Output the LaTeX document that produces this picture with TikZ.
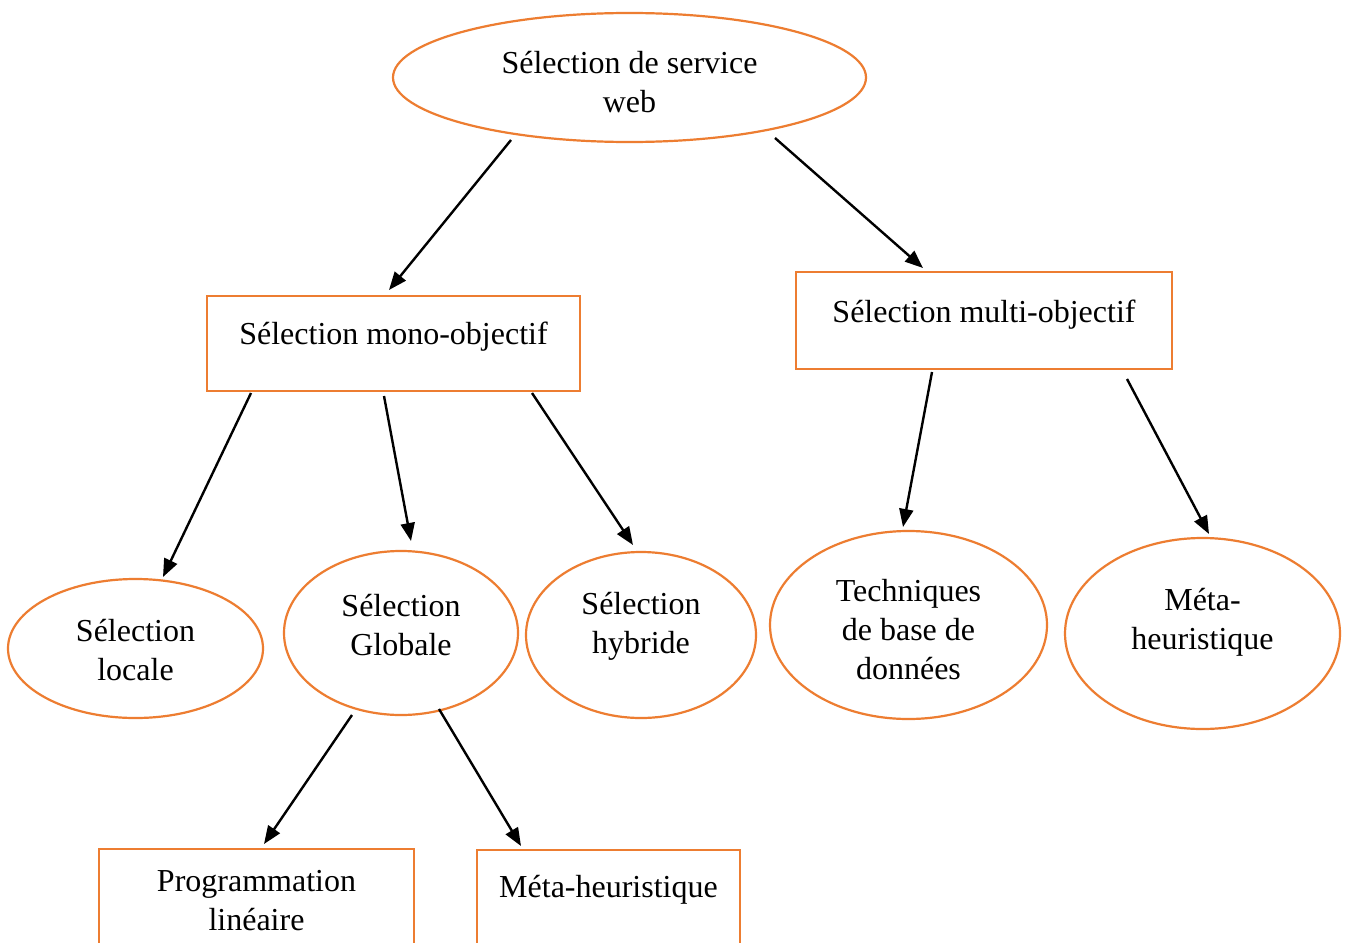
\documentclass[tikz,border=0pt]{standalone}
\usepackage{fontspec}
\setmainfont{Liberation Serif}
\usetikzlibrary{shapes.geometric,arrows.meta}
\definecolor{edgeorange}{HTML}{ED7D31}
\tikzset{
  txt/.style={font=\fontsize{32pt}{39pt}\selectfont, align=center, inner sep=0pt},
  oval/.style={ellipse, draw=edgeorange, line width=2.2pt, inner sep=0pt},
  rbox/.style={rectangle, draw=edgeorange, line width=2.2pt, inner sep=0pt},
  link/.style={line width=2.4pt, -{Triangle[length=18pt,width=14pt]}}
}
\begin{document}
\begin{tikzpicture}[x=1pt,y=-1pt]
\clip (0,0) rectangle (1346,942);
\fill[white] (0,0) rectangle (1346,942);

% root
\node[oval, minimum width=473pt, minimum height=129pt] (root) at (629.5,77.5) {};
\node[txt] (rootT) at (629.5,82) {Sélection de service\\web};

% second level
\node[rbox, minimum width=373pt, minimum height=95pt] (mono) at (393.5,343.5) {};
\node[txt] (monoT) at (393.5,336.5) {Sélection mono-objectif};
\node[rbox, minimum width=376pt, minimum height=97pt] (multi) at (984,320.5) {};
\node[txt] (multiT) at (984,314.5) {Sélection multi-objectif};

% third level
\node[oval, minimum width=255pt, minimum height=139pt] (loc) at (135.5,648.5) {};
\node[txt] (locT) at (135.5,650.5) {Sélection\\locale};
\node[oval, minimum width=234pt, minimum height=164pt] (glob) at (401,633) {};
\node[txt] (globT) at (401,625.5) {Sélection\\Globale};
\node[oval, minimum width=230pt, minimum height=166pt] (hyb) at (641,635) {};
\node[txt] (hybT) at (641,626.5) {Sélection\\hybride};
\node[oval, minimum width=277pt, minimum height=188pt] (tech) at (908.5,625) {};
\node[txt] (techT) at (908.5,629.5) {Techniques\\de base de\\données};
\node[oval, minimum width=275pt, minimum height=191pt] (meta) at (1202.5,633.5) {};
\node[txt] (metaT) at (1202.5,622.5) {Méta-\\heuristique};

% fourth level (boxes run past the lower edge)
\node[rbox, minimum width=315pt, minimum height=110pt] (prog) at (256.5,904) {};
\node[txt] (progT) at (256.5,900.5) {Programmation\\linéaire};
\node[rbox, minimum width=263pt, minimum height=110pt] (mh) at (608.5,905) {};
\node[txt] (mhT) at (608.5,889.5) {Méta-heuristique};

% connector end points
\coordinate (r1) at (511,140);  \coordinate (m1) at (389,290);
\coordinate (r2) at (775,138);  \coordinate (u1) at (923,268);
\coordinate (a1) at (251,393);  \coordinate (l1) at (163,577);
\coordinate (a2) at (384,396);  \coordinate (g1) at (411,541);
\coordinate (a3) at (532,393);  \coordinate (h1) at (633,545);
\coordinate (b1) at (932,372);  \coordinate (t1) at (903,527);
\coordinate (b2) at (1127,379); \coordinate (e1) at (1209,534);
\coordinate (c1) at (352,715);  \coordinate (p1) at (264,844);
\coordinate (c2) at (439,709);  \coordinate (q1) at (521,846);

\draw[link] (r1) -- (m1);
\draw[link] (r2) -- (u1);
\draw[link] (a1) -- (l1);
\draw[link] (a2) -- (g1);
\draw[link] (a3) -- (h1);
\draw[link] (b1) -- (t1);
\draw[link] (b2) -- (e1);
\draw[link] (c1) -- (p1);
\draw[link] (c2) -- (q1);
\end{tikzpicture}
\end{document}
